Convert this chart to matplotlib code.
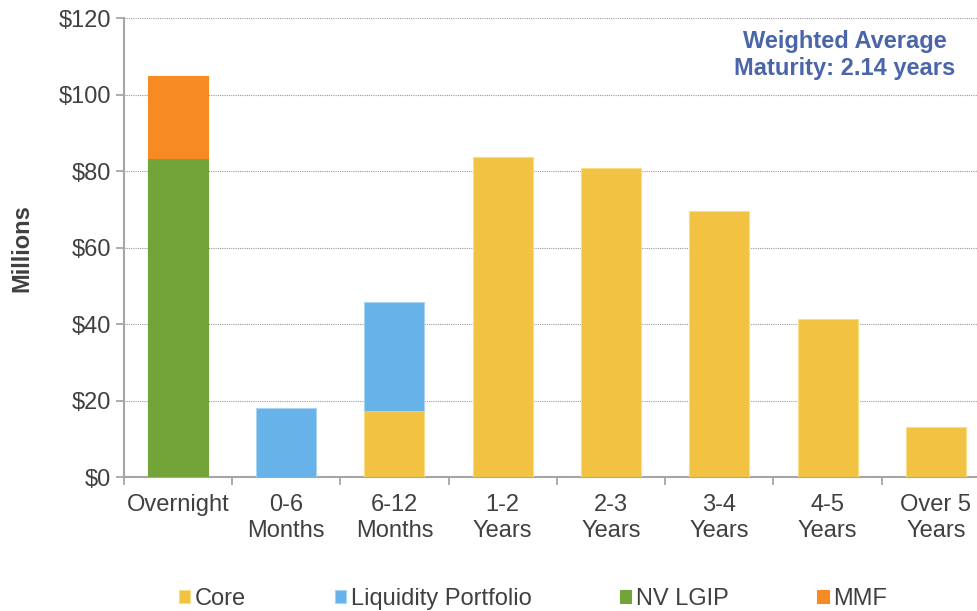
import numpy as np
import matplotlib.pyplot as plt
from matplotlib.ticker import FixedLocator

plt.rcParams['font.family'] = ['Liberation Sans', 'DejaVu Sans']

# Maturity buckets and holdings ($ millions)
buckets = ['Overnight', '0-6\nMonths', '6-12\nMonths', '1-2\nYears', '2-3\nYears',
           '3-4\nYears', '4-5\nYears', 'Over 5\nYears']
core = [0, 0, 17.4, 83.7, 80.9, 69.7, 41.3, 13.0]
liquidity = [0, 18.0, 28.3, 0, 0, 0, 0, 0]
nv_lgip = [83.4, 0, 0, 0, 0, 0, 0, 0]
mmf = [21.4, 0, 0, 0, 0, 0, 0, 0]

series = [
    ('Core', core, '#F2C343', '#F8DC88'),
    ('Liquidity Portfolio', liquidity, '#67B2E8', '#A8D3F2'),
    ('NV LGIP', nv_lgip, '#72A43A', '#72A43A'),
    ('MMF', mmf, '#F78A23', '#F78A23'),
]

text_col = '#404040'
axis_col = '#A6A6A6'
fs = 17

fig = plt.figure(figsize=(9.78, 6.11), dpi=100)
ax = fig.add_axes([0.1265, 0.219, 0.8858, 0.7512])

x = np.arange(len(buckets))
bottom = np.zeros(len(buckets))
handles = []
for name, vals, col, edge in series:
    vals = np.array(vals)
    keep = vals > 0  # skip empty segments so no stray edges are drawn
    bars = ax.bar(x[keep], vals[keep], width=0.555, bottom=bottom[keep], color=col,
                  edgecolor=edge, linewidth=0.8, label=name, zorder=3)
    handles.append(bars)
    bottom += vals

ax.set_xlim(-0.5, 7.5)
ax.set_ylim(0, 120)
ax.set_yticks(range(0, 121, 20))
ax.set_yticklabels([f'${v}' for v in range(0, 121, 20)])
ax.yaxis.grid(True, color='#9A9A9A', linestyle=(0, (1, 1)), linewidth=0.8, zorder=0)

ax.set_xticks(x)
ax.set_xticklabels(buckets, linespacing=1.25)
ax.xaxis.set_minor_locator(FixedLocator(np.arange(-0.5, 8, 1)))
ax.tick_params(axis='x', which='major', length=0, pad=12, labelsize=fs, labelcolor=text_col)
ax.tick_params(axis='x', which='minor', length=6, width=1.3, color=axis_col, direction='out')
ax.tick_params(axis='y', length=6, width=1.3, color=axis_col, pad=3,
               labelsize=fs, labelcolor=text_col)

for side in ['top', 'right']:
    ax.spines[side].set_visible(False)
for side in ['left', 'bottom']:
    ax.spines[side].set_color(axis_col)
    ax.spines[side].set_linewidth(1.5)

ax.set_ylabel('Millions', fontsize=fs, fontweight='bold', color=text_col, labelpad=18)

fig.text(845 / 978, 1 - 55 / 611, 'Weighted Average\nMaturity: 2.14 years',
         ha='center', va='center', fontsize=fs, fontweight='bold',
         color='#4A65A8', linespacing=1.25)

fig.legend(handles=handles, labels=[s[0] for s in series], loc='center',
           bbox_to_anchor=(533 / 978, 1 - 599 / 611), ncol=4, frameon=False,
           fontsize=fs, handlelength=0.48, handleheight=0.48, handletextpad=0.2,
           columnspacing=3.75, labelcolor=text_col)

fig.savefig('out.png', dpi=100)
